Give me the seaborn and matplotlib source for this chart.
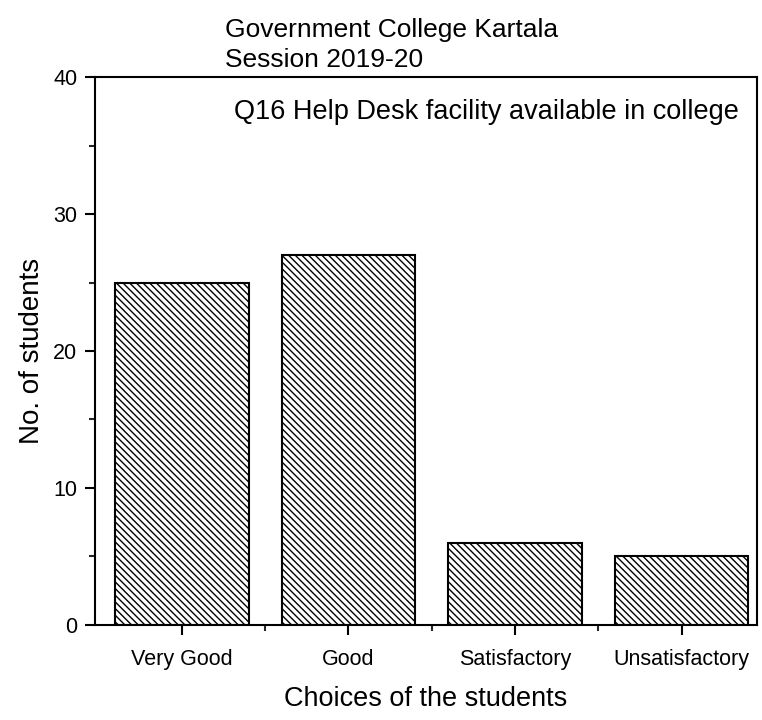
import pandas as pd
import matplotlib.pyplot as plt
import seaborn as sns
from matplotlib.ticker import MultipleLocator

choices = ["Very Good", "Good", "Satisfactory", "Unsatisfactory"]
students = [25, 27, 6, 5]

df = pd.DataFrame({"choice": choices, "students": students})

sns.set_theme(style="ticks")
plt.rcParams['font.family'] = ['Liberation Sans', 'DejaVu Sans']
plt.rcParams['hatch.linewidth'] = 1.0
plt.rcParams['text.color'] = 'black'
plt.rcParams['axes.labelcolor'] = 'black'

fig = plt.figure(figsize=(7.62, 7.2), dpi=100)
ax = fig.add_axes([0.125, 0.132, 0.868, 0.761])

sns.barplot(data=df, x="choice", y="students", color="white",
            edgecolor="black", linewidth=1.5, width=0.8, ax=ax)
for bar in ax.patches:
    bar.set_hatch("\\\\\\\\\\")

ax.set_ylim(0, 40)
ax.set_xlim(-0.52, 3.45)
ax.yaxis.set_major_locator(MultipleLocator(10))
ax.yaxis.set_minor_locator(MultipleLocator(5))
ax.set_xticks([0, 1, 2, 3], minor=False)
ax.set_xticks([0.5, 1.5, 2.5], minor=True)
ax.tick_params(axis='both', which='major', direction='out', length=7, width=1.5,
               labelsize=15.5, colors='black')
ax.tick_params(axis='x', which='major', pad=10)
ax.tick_params(axis='y', which='major', pad=6)
ax.tick_params(axis='both', which='minor', direction='out', length=4, width=1.5)
for s in ax.spines.values():
    s.set_linewidth(1.5)
    s.set_color('black')

ax.set_xlabel("Choices of the students", fontsize=19.5, labelpad=12)
ax.set_ylabel("No. of students", fontsize=20, labelpad=6)

fig.text(0.295, 0.9, "Government College Kartala\nSession 2019-20",
         fontsize=19, ha='left', va='bottom', linespacing=1.3)
ax.text(0.21, 0.96, "Q16 Help Desk facility available in college",
        transform=ax.transAxes, fontsize=19.5, ha='left', va='top')

fig.savefig("out.png", dpi=100)
